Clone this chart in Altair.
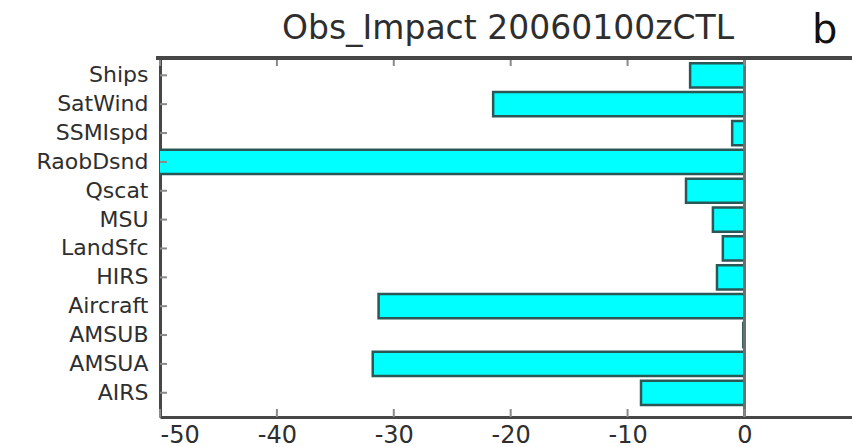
import altair as alt
import pandas as pd

# Observation-type impact per platform (top to bottom as plotted)
categories = ["Ships", "SatWind", "SSMIspd", "RaobDsnd", "Qscat", "MSU",
              "LandSfc", "HIRS", "Aircraft", "AMSUB", "AMSUA", "AIRS"]
impact = [-4.65, -21.5, -1.05, -53.0, -5.0, -2.7,
          -1.85, -2.35, -31.3, -0.1, -31.8, -8.85]
x_ticks = [-50, -40, -30, -20, -10, 0]

title_text = "Obs_Impact 20060100zCTL"
panel_letter = "b"

W, H = 692, 359
FONT = "DejaVu Sans"
FRAME = "#474747"
TEXT = "#2e2e2e"

df = pd.DataFrame({"obs": categories, "impact": impact})
ticks_df = pd.DataFrame({"t": x_ticks})

x_scale = alt.Scale(domain=[-50, 9.2], nice=False, zero=False)
y_scale = alt.Scale(domain=categories, paddingInner=0.16, paddingOuter=0.3, align=0.3)

x_axis = alt.Axis(values=x_ticks, orient="bottom", grid=False, ticks=False, tickSize=0,
                  domainColor=FRAME, domainWidth=3, labelFont=FONT, labelFontSize=24,
                  labelColor=TEXT, labelPadding=6, labelExpr="'' + datum.value", title=None)
y_axis = alt.Axis(orient="left", grid=False, ticks=False, tickSize=0,
                  domainColor=FRAME, domainWidth=3, labelFont=FONT, labelFontSize=22,
                  labelColor=TEXT, labelPadding=12, title=None)

bars = alt.Chart(df).mark_bar(
    color="#00ffff", stroke="#2b5757", strokeWidth=2.5, clip=True
).encode(
    x=alt.X("impact:Q", scale=x_scale, axis=x_axis),
    x2=alt.datum(0),
    y=alt.Y("obs:N", scale=y_scale, axis=y_axis, sort=categories),
)

# vertical line at zero through the bar ends
zero_line = alt.Chart(df).mark_rule(color="#6e6e6e", strokeWidth=2).encode(
    x=alt.datum(0), y=alt.value(0), y2=alt.value(H)
)

# inward y ticks on the left frame
y_ticks = alt.Chart(df).mark_rule(color="#8a8a8a", strokeWidth=2).encode(
    x=alt.datum(-50), x2=alt.datum(-49.4), y=alt.Y("obs:N", scale=y_scale, sort=categories)
)

# inward x ticks on the top and bottom frame
top_ticks = alt.Chart(ticks_df).mark_rule(color="#8a8a8a", strokeWidth=2).encode(
    x=alt.X("t:Q", scale=x_scale), y=alt.value(0), y2=alt.value(8)
)
bottom_ticks = alt.Chart(ticks_df).mark_rule(color="#8a8a8a", strokeWidth=2).encode(
    x=alt.X("t:Q", scale=x_scale), y=alt.value(H - 8), y2=alt.value(H)
)

# top frame edge
top_frame = alt.Chart(df).mark_rule(color=FRAME, strokeWidth=3).encode(
    x=alt.datum(-50.3), x2=alt.datum(9.2), y=alt.value(0)
)

# chart heading and panel letter
heading = alt.Chart(alt.Data(values=[{"k": title_text}])).mark_text(
    font=FONT, fontSize=33, align="center", baseline="alphabetic", color=TEXT
).encode(text="k:N", x=alt.value(348), y=alt.value(-19))

letter = alt.Chart(alt.Data(values=[{"k": panel_letter}])).mark_text(
    font=FONT, fontSize=40, align="left", baseline="alphabetic", color="#111"
).encode(text="k:N", x=alt.value(652), y=alt.value(-15))

chart = alt.layer(
    bars, zero_line, y_ticks, top_ticks, bottom_ticks, top_frame, heading, letter
).properties(
    width=W, height=H,
    autosize=alt.AutoSizeParams(type="none"),
    padding={"left": 160, "top": 58, "right": 0, "bottom": 30},
).configure_view(stroke=None).configure(background="white")

chart.save("out.html", embed_options={"renderer": "svg", "actions": False})
